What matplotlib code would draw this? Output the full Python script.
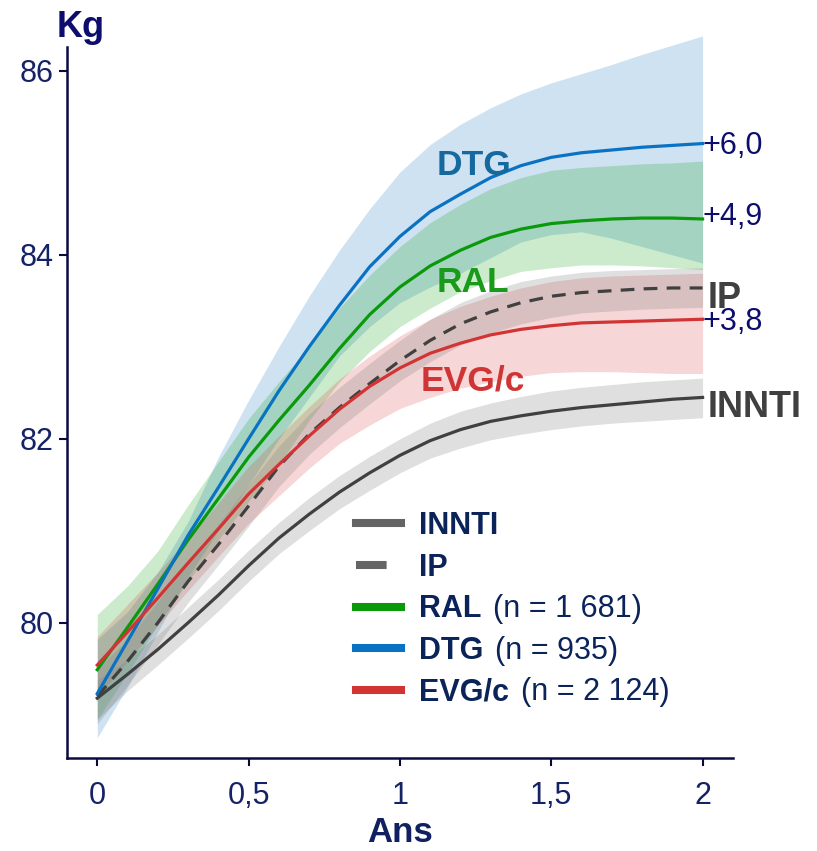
import matplotlib

matplotlib.use("Agg")
import matplotlib.pyplot as plt
from matplotlib.lines import Line2D

plt.rcParams["font.family"] = ["Liberation Sans", "DejaVu Sans"]

# time axis (years)
years = [0.0, 0.1, 0.2, 0.3, 0.4, 0.5, 0.6, 0.7, 0.8, 0.9, 1.0,
         1.1, 1.2, 1.3, 1.4, 1.5, 1.6, 1.7, 1.8, 1.9, 2.0]

# weight (kg) + 95% band per group
innti = [79.18, 79.44, 79.71, 80.00, 80.30, 80.62, 80.92, 81.18, 81.42, 81.63, 81.82,
         81.98, 82.10, 82.19, 82.25, 82.30, 82.34, 82.37, 82.40, 82.43, 82.45]
innti_hi = [79.38, 79.60, 79.87, 80.17, 80.47, 80.79, 81.09, 81.36, 81.60, 81.81, 82.00,
            82.17, 82.30, 82.39, 82.46, 82.52, 82.56, 82.59, 82.62, 82.64, 82.66]
innti_lo = [78.95, 79.26, 79.54, 79.83, 80.13, 80.45, 80.75, 81.00, 81.24, 81.44, 81.63,
            81.79, 81.90, 81.99, 82.05, 82.10, 82.14, 82.17, 82.19, 82.21, 82.23]

ip = [79.20, 79.58, 80.00, 80.45, 80.85, 81.27, 81.70, 82.05, 82.34, 82.60, 82.85,
      83.07, 83.25, 83.38, 83.48, 83.55, 83.59, 83.61, 83.63, 83.64, 83.64]
ip_hi = [79.50, 79.82, 80.23, 80.67, 81.07, 81.50, 81.92, 82.27, 82.56, 82.82, 83.07,
         83.30, 83.48, 83.61, 83.71, 83.77, 83.81, 83.83, 83.84, 83.85, 83.86]
ip_lo = [78.90, 79.32, 79.76, 80.22, 80.63, 81.05, 81.48, 81.83, 82.12, 82.38, 82.63,
         82.84, 83.02, 83.15, 83.25, 83.32, 83.37, 83.39, 83.41, 83.42, 83.43]

ral = [79.49, 79.95, 80.42, 80.90, 81.35, 81.80, 82.20, 82.58, 82.98, 83.35, 83.65,
       83.88, 84.05, 84.19, 84.28, 84.34, 84.37, 84.39, 84.40, 84.40, 84.39]
ral_hi = [80.09, 80.40, 80.78, 81.28, 81.75, 82.22, 82.62, 83.00, 83.42, 83.78, 84.09,
          84.35, 84.55, 84.72, 84.84, 84.92, 84.95, 84.97, 84.99, 85.00, 85.02]
ral_lo = [78.95, 79.45, 79.98, 80.45, 80.90, 81.32, 81.72, 82.20, 82.62, 82.95, 83.22,
          83.42, 83.60, 83.72, 83.82, 83.86, 83.89, 83.89, 83.88, 83.86, 83.84]

dtg = [79.23, 79.80, 80.37, 80.95, 81.47, 82.00, 82.52, 83.00, 83.45, 83.87, 84.20,
       84.47, 84.66, 84.84, 84.97, 85.06, 85.11, 85.14, 85.17, 85.19, 85.21]
dtg_hi = [79.82, 80.12, 80.55, 81.10, 81.80, 82.42, 83.00, 83.55, 84.05, 84.50, 84.90,
          85.20, 85.42, 85.60, 85.75, 85.87, 85.97, 86.07, 86.18, 86.28, 86.38]
dtg_lo = [78.75, 79.30, 79.90, 80.50, 81.00, 81.50, 82.00, 82.45, 82.90, 83.22, 83.48,
          83.65, 83.80, 83.97, 84.14, 84.22, 84.25, 84.18, 84.09, 84.00, 83.91]

evg = [79.54, 79.90, 80.27, 80.65, 81.02, 81.40, 81.72, 82.03, 82.32, 82.57, 82.77,
       82.93, 83.04, 83.13, 83.19, 83.23, 83.26, 83.27, 83.28, 83.29, 83.30]
evg_hi = [79.85, 80.20, 80.55, 80.92, 81.30, 81.70, 82.03, 82.35, 82.65, 82.90, 83.12,
          83.30, 83.44, 83.55, 83.64, 83.71, 83.75, 83.77, 83.78, 83.79, 83.80]
evg_lo = [79.20, 79.58, 79.97, 80.35, 80.72, 81.08, 81.38, 81.68, 81.95, 82.15, 82.33,
          82.45, 82.55, 82.62, 82.68, 82.72, 82.73, 82.73, 82.72, 82.71, 82.71]

legend_names = ["INNTI", "IP", "RAL", "DTG", "EVG/c"]
legend_counts = ["", "", "(n = 1 681)", "(n = 935)", "(n = 2 124)"]
gain_labels = ["+6,0", "+4,9", "+3,8"]

x_ticks = [0, 0.5, 1, 1.5, 2]
x_ticklabels = ["0", "0,5", "1", "1,5", "2"]
y_ticks = [80, 82, 84, 86]

GRAY = "#404040"
GREEN = "#0a990a"
BLUE = "#0a72c2"
RED = "#d23434"
NAVY = "#142266"
DARKNAVY = "#0d0d6e"
LEGTXT = "#0a2359"

fig = plt.figure(figsize=(8.17, 8.51), dpi=100)
ax = fig.add_axes([0.082, 0.1093, 0.815, 0.8355])

# bands (the DTG band runs past the top of the y axis in the original)
ax.fill_between(years, dtg_lo, dtg_hi, color=BLUE, alpha=0.2, lw=0, clip_on=False)
ax.fill_between(years, ral_lo, ral_hi, color="#009e00", alpha=0.2, lw=0)
ax.fill_between(years, evg_lo, evg_hi, color=RED, alpha=0.2, lw=0)
ax.fill_between(years, ip_lo, ip_hi, color="#808080", alpha=0.25, lw=0)
ax.fill_between(years, innti_lo, innti_hi, color="#808080", alpha=0.25, lw=0)

# lines
lw = 2.3
ax.plot(years, innti, color=GRAY, lw=lw)
ax.plot(years, ip, color=GRAY, lw=lw, dashes=(4.3, 2.9))
ax.plot(years, ral, color=GREEN, lw=lw)
ax.plot(years, dtg, color=BLUE, lw=lw)
ax.plot(years, evg, color=RED, lw=lw)

# in-plot group labels
ax.text(1.122, 84.87, "DTG", color="#16699e", fontsize=25.5, fontweight="bold",
        ha="left", va="baseline")
ax.text(1.122, 83.60, "RAL", color="#1a9a1a", fontsize=25.5, fontweight="bold",
        ha="left", va="baseline")
ax.text(1.069, 82.52, "EVG/c", color="#d03535", fontsize=25.5, fontweight="bold",
        ha="left", va="baseline")

# end-of-line labels
ax.text(years[-1], dtg[-1] - 0.11, gain_labels[0], color=DARKNAVY, fontsize=22,
        ha="left", va="baseline")
ax.text(years[-1], ral[-1] - 0.07, gain_labels[1], color=DARKNAVY, fontsize=22,
        ha="left", va="baseline")
ax.text(years[-1], evg[-1] - 0.12, gain_labels[2], color=DARKNAVY, fontsize=22,
        ha="left", va="baseline")
ax.text(years[-1] + 0.017, ip[-1] - 0.22, "IP", color=GRAY, fontsize=26,
        fontweight="bold", ha="left", va="baseline")
ax.text(years[-1] + 0.017, innti[-1] - 0.21, "INNTI", color=GRAY, fontsize=26,
        fontweight="bold", ha="left", va="baseline")

# axes styling
ax.set_xlim(-0.1, 2.1)
ax.set_ylim(78.53, 86.26)
ax.set_xticks(x_ticks)
ax.set_xticklabels(x_ticklabels)
ax.set_yticks(y_ticks)
for side in ("top", "right"):
    ax.spines[side].set_visible(False)
for side in ("left", "bottom"):
    ax.spines[side].set_color("#0a0a40")
    ax.spines[side].set_linewidth(1.8)
ax.tick_params(axis="both", colors="#0a0a40", width=1.5, length=5.5,
               labelsize=22, labelcolor=NAVY)
ax.tick_params(axis="x", pad=11)
ax.tick_params(axis="y", pad=4)
ax.set_xlabel("Ans", fontsize=25, fontweight="bold", color="#102060", labelpad=4)
fig.text(57 / 817, 1 - 37 / 851, "Kg", fontsize=26, fontweight="bold",
         color=DARKNAVY, ha="left", va="baseline")

# legend
handles = [
    Line2D([], [], color="#646464", lw=5.8),
    Line2D([], [], color="#646464", lw=5.8, dashes=(3.8, 20)),
    Line2D([], [], color=GREEN, lw=5.8),
    Line2D([], [], color=BLUE, lw=5.8),
    Line2D([], [], color=RED, lw=5.8),
]
leg = ax.legend(handles, legend_names, loc="upper left",
                bbox_to_anchor=(356 / 817, 1 - 511 / 851),
                bbox_transform=fig.transFigure, frameon=False,
                borderpad=0, borderaxespad=0, handlelength=1.47,
                handletextpad=0.59, labelspacing=0.38,
                prop={"size": 22, "weight": "bold"})
for t in leg.get_texts():
    t.set_color(LEGTXT)

# "(n = ...)" parts in regular weight, right after the bold names
fig.canvas.draw()
renderer = fig.canvas.get_renderer()
W, H = fig.bbox.width, fig.bbox.height
for t, extra in zip(leg.get_texts(), legend_counts):
    if not extra:
        continue
    bb = t.get_window_extent(renderer)
    fig.text((bb.x1 + 12) / W, bb.y0 / H, extra, fontsize=22,
             color=LEGTXT, ha="left", va="bottom")

fig.savefig("out.png", dpi=100)
